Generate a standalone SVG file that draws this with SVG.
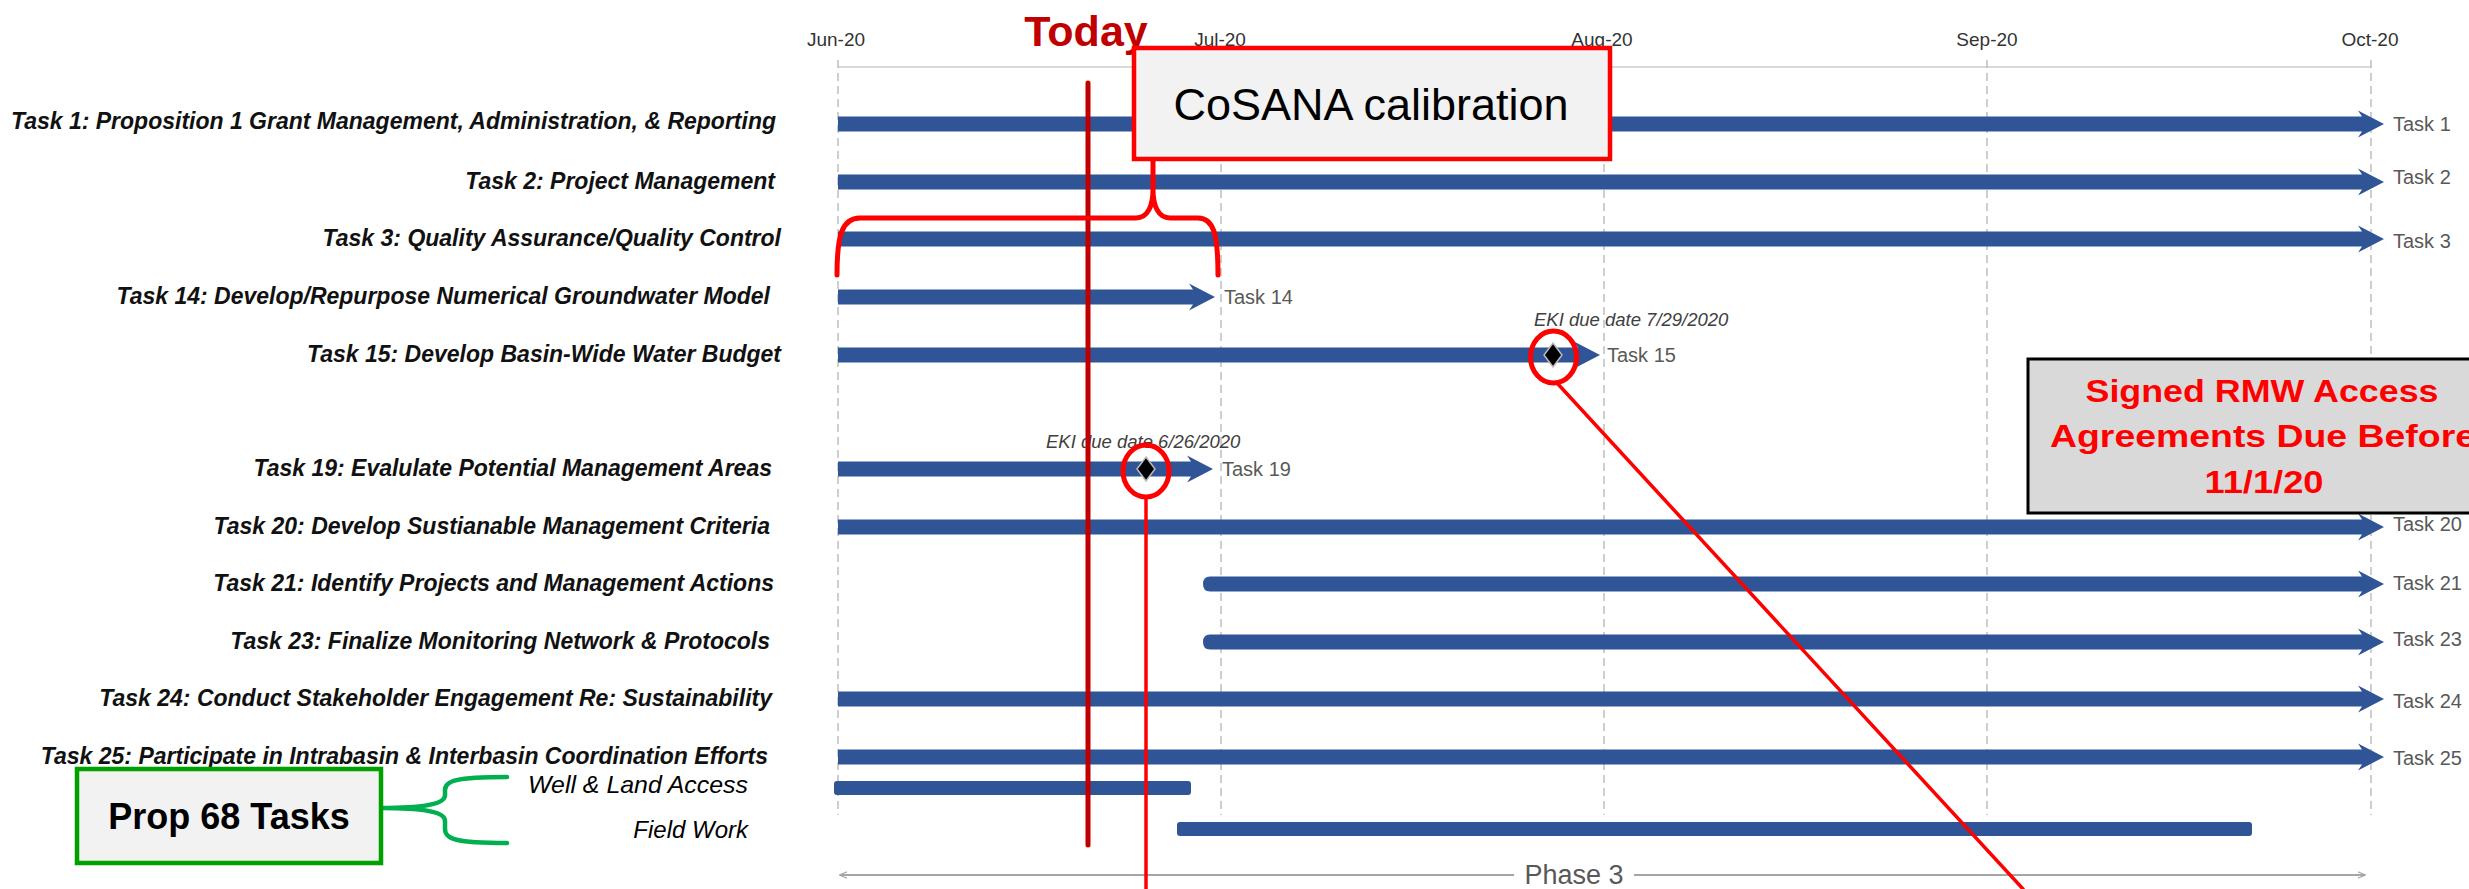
<svg xmlns="http://www.w3.org/2000/svg" width="2469" height="889" viewBox="0 0 2469 889">
<defs>
<style>
.lbl{font-family:"Liberation Sans",Arial,sans-serif;font-weight:bold;font-style:italic;font-size:23px;fill:#111;text-anchor:end}
.mon{font-family:"Liberation Sans",Arial,sans-serif;font-size:19px;fill:#333;text-anchor:middle}
.tk{font-family:"Liberation Sans",Arial,sans-serif;font-size:20px;fill:#595959}
.eki{font-family:"Liberation Sans",Arial,sans-serif;font-style:italic;font-size:18.5px;fill:#404040}
.bar{fill:#2f5597}
.grid{stroke:#bfbfbf;stroke-width:1.5;stroke-dasharray:8 5;fill:none}
.red{stroke:#ff0000;fill:none;stroke-linecap:round;stroke-linejoin:round}
.dia{fill:#000;stroke:#bbbbbb;stroke-width:1.5}
</style>
<marker id="ah" viewBox="0 0 10 10" refX="9" refY="5" markerWidth="8" markerHeight="8" orient="auto-start-reverse" markerUnits="userSpaceOnUse">
<path d="M0,1 L10,5 L0,9" fill="none" stroke="#a6a6a6" stroke-width="1.5"/>
</marker>
</defs>
<rect width="2469" height="889" fill="#fff"/>

<g id="axis">
<line x1="838" y1="67" x2="2371" y2="67" stroke="#d9d9d9" stroke-width="2"/>
<line class="grid" x1="838" y1="60" x2="838" y2="815"/>
<line class="grid" x1="1221" y1="60" x2="1221" y2="815"/>
<line class="grid" x1="1604" y1="60" x2="1604" y2="815"/>
<line class="grid" x1="1987" y1="60" x2="1987" y2="815"/>
<line class="grid" x1="2371" y1="60" x2="2371" y2="815"/>
<text class="mon" x="836" y="46">Jun-20</text>
<text class="mon" x="1220" y="46">Jul-20</text>
<text class="mon" x="1602" y="46">Aug-20</text>
<text class="mon" x="1987" y="46">Sep-20</text>
<text class="mon" x="2370" y="46">Oct-20</text>
</g>

<g id="task1"><text class="lbl" x="776" y="129">Task 1: Proposition 1 Grant Management, Administration, &amp; Reporting</text>
<path class="bar" d="M838,116.5 H2362 L2358,110.5 L2384,124 L2358,137.5 L2362,131.5 H838 Z"/><text class="tk" x="2393" y="131">Task 1</text></g>
<g id="task2"><text class="lbl" x="775" y="189">Task 2: Project Management</text>
<path class="bar" d="M838,174.5 H2362 L2358,168.5 L2384,182 L2358,195.5 L2362,189.5 H838 Z"/><text class="tk" x="2393" y="184">Task 2</text></g>
<g id="task3"><text class="lbl" x="781" y="246">Task 3: Quality Assurance/Quality Control</text>
<path class="bar" d="M838,231.5 H2362 L2358,225.5 L2384,239 L2358,252.5 L2362,246.5 H838 Z"/><text class="tk" x="2393" y="248">Task 3</text></g>
<g id="task14"><text class="lbl" x="770" y="304">Task 14: Develop/Repurpose Numerical Groundwater Model</text>
<path class="bar" d="M838,289.5 H1193 L1189,283.5 L1215,297 L1189,310.5 L1193,304.5 H838 Z"/><text class="tk" x="1224" y="304">Task 14</text></g>
<g id="task15"><text class="lbl" x="781" y="362">Task 15: Develop Basin-Wide Water Budget</text>
<path class="bar" d="M838,347.5 H1578 L1574,341.5 L1600,355 L1574,368.5 L1578,362.5 H838 Z"/><text class="tk" x="1607" y="362">Task 15</text>
<text class="eki" x="1534" y="326">EKI due date 7/29/2020</text>
<path class="dia" d="M1553,343 L1562,355 L1553,367 L1544,355 Z"/></g>
<g id="task19"><text class="lbl" x="772" y="476">Task 19: Evalulate Potential Management Areas</text>
<path class="bar" d="M838,461.5 H1191 L1187,455.5 L1213,469 L1187,482.5 L1191,476.5 H838 Z"/><text class="tk" x="1222" y="476">Task 19</text>
<text class="eki" x="1046" y="448">EKI due date 6/26/2020</text>
<path class="dia" d="M1146,457 L1155,469 L1146,481 L1137,469 Z"/></g>
<g id="task20"><text class="lbl" x="770" y="534">Task 20: Develop Sustianable Management Criteria</text>
<path class="bar" d="M838,519.5 H2362 L2358,513.5 L2384,527 L2358,540.5 L2362,534.5 H838 Z"/><text class="tk" x="2393" y="531">Task 20</text></g>
<g id="task21"><text class="lbl" x="774" y="591">Task 21: Identify Projects and Management Actions</text>
<path class="bar" d="M1210,576.5 H2362 L2358,570.5 L2384,584 L2358,597.5 L2362,591.5 H1210 Q1203,591.5 1203,584 Q1203,576.5 1210,576.5 Z"/><text class="tk" x="2393" y="590">Task 21</text></g>
<g id="task23"><text class="lbl" x="770" y="649">Task 23: Finalize Monitoring Network &amp; Protocols</text>
<path class="bar" d="M1210,634.5 H2362 L2358,628.5 L2384,642 L2358,655.5 L2362,649.5 H1210 Q1203,649.5 1203,642 Q1203,634.5 1210,634.5 Z"/><text class="tk" x="2393" y="646">Task 23</text></g>
<g id="task24"><text class="lbl" x="772" y="706">Task 24: Conduct Stakeholder Engagement Re: Sustainability</text>
<path class="bar" d="M838,691.5 H2362 L2358,685.5 L2384,699 L2358,712.5 L2362,706.5 H838 Z"/><text class="tk" x="2393" y="708">Task 24</text></g>
<g id="task25"><text class="lbl" x="768" y="764">Task 25: Participate in Intrabasin &amp; Interbasin Coordination Efforts</text>
<path class="bar" d="M838,749.5 H2362 L2358,743.5 L2384,757 L2358,770.5 L2362,764.5 H838 Z"/><text class="tk" x="2393" y="765">Task 25</text></g>

<g id="prop68-bars">
<rect class="bar" x="834" y="781" width="357" height="14" rx="3"/>
<rect class="bar" x="1177" y="822" width="1075" height="14" rx="3"/>
<text x="748" y="793" font-family="Liberation Sans, Arial, sans-serif" font-style="italic" font-size="24" fill="#000" text-anchor="end" textLength="220" lengthAdjust="spacingAndGlyphs">Well &amp; Land Access</text>
<text x="748" y="838" font-family="Liberation Sans, Arial, sans-serif" font-style="italic" font-size="24" fill="#000" text-anchor="end">Field Work</text>
</g>

<g id="phase3">
<line x1="840" y1="875" x2="1514" y2="875" stroke="#a6a6a6" stroke-width="2" marker-start="url(#ah)"/>
<line x1="1634" y1="875" x2="2365" y2="875" stroke="#a6a6a6" stroke-width="2" marker-end="url(#ah)"/>
<text x="1574" y="884" font-family="Liberation Sans, Arial, sans-serif" font-size="27" fill="#595959" text-anchor="middle">Phase 3</text>
</g>

<g id="today">
<text x="1086" y="46" font-family="Liberation Sans, Arial, sans-serif" font-weight="bold" font-size="43" fill="#c00000" text-anchor="middle">Today</text>
<line x1="1088" y1="83" x2="1088" y2="845" stroke="#c00000" stroke-width="5" stroke-linecap="round"/>
</g>

<g id="connectors">
<path class="red" stroke-width="5" d="M837,275 C837,235 842,218 860,218 L1136,218 C1148,218 1153,205 1153,190 L1153,159 M1153,190 C1153,205 1158,218 1170,218 L1198,218 C1214,218 1218,235 1218,275"/>
<ellipse class="red" stroke-width="5" cx="1553.5" cy="357" rx="23" ry="26"/>
<ellipse class="red" stroke-width="5" cx="1146" cy="471" rx="23" ry="26"/>
<line class="red" stroke-width="3.5" x1="1146" y1="497" x2="1146" y2="889"/>
<line class="red" stroke-width="3.5" x1="1557" y1="383" x2="2023" y2="889"/>
<path d="M381,808 C425,808 445,804 445,795 L445,790 C445,781 455,777 507,777 M381,808 C425,808 445,812 445,821 L445,829 C445,839 455,843 507,843" fill="none" stroke="#00b050" stroke-width="4.5" stroke-linecap="round"/>
</g>

<g id="cosana">
<rect x="1134" y="48" width="476" height="111" fill="#f2f2f2" stroke="#ff0000" stroke-width="4.5"/>
<text x="1371" y="120" font-family="Liberation Sans, Arial, sans-serif" font-size="45" fill="#000" text-anchor="middle">CoSANA calibration</text>
</g>

<g id="rmw">
<rect x="2028" y="359" width="460" height="154" fill="#d9d9d9" stroke="#000" stroke-width="3"/>
<g font-family="Liberation Sans, Arial, sans-serif" font-weight="bold" font-size="32" fill="#ff0000" text-anchor="middle">
<text x="2262" y="402" textLength="353" lengthAdjust="spacingAndGlyphs">Signed RMW Access</text>
<text x="2263" y="447" textLength="426" lengthAdjust="spacingAndGlyphs">Agreements Due Before</text>
<text x="2264" y="493" textLength="119" lengthAdjust="spacingAndGlyphs">11/1/20</text>
</g>
</g>

<g id="prop68">
<rect x="77" y="769" width="304" height="94" fill="#f2f2f2" stroke="#00a000" stroke-width="4.5"/>
<text x="229" y="829" font-family="Liberation Sans, Arial, sans-serif" font-weight="bold" font-size="36" fill="#000" text-anchor="middle">Prop 68 Tasks</text>
</g>
</svg>
